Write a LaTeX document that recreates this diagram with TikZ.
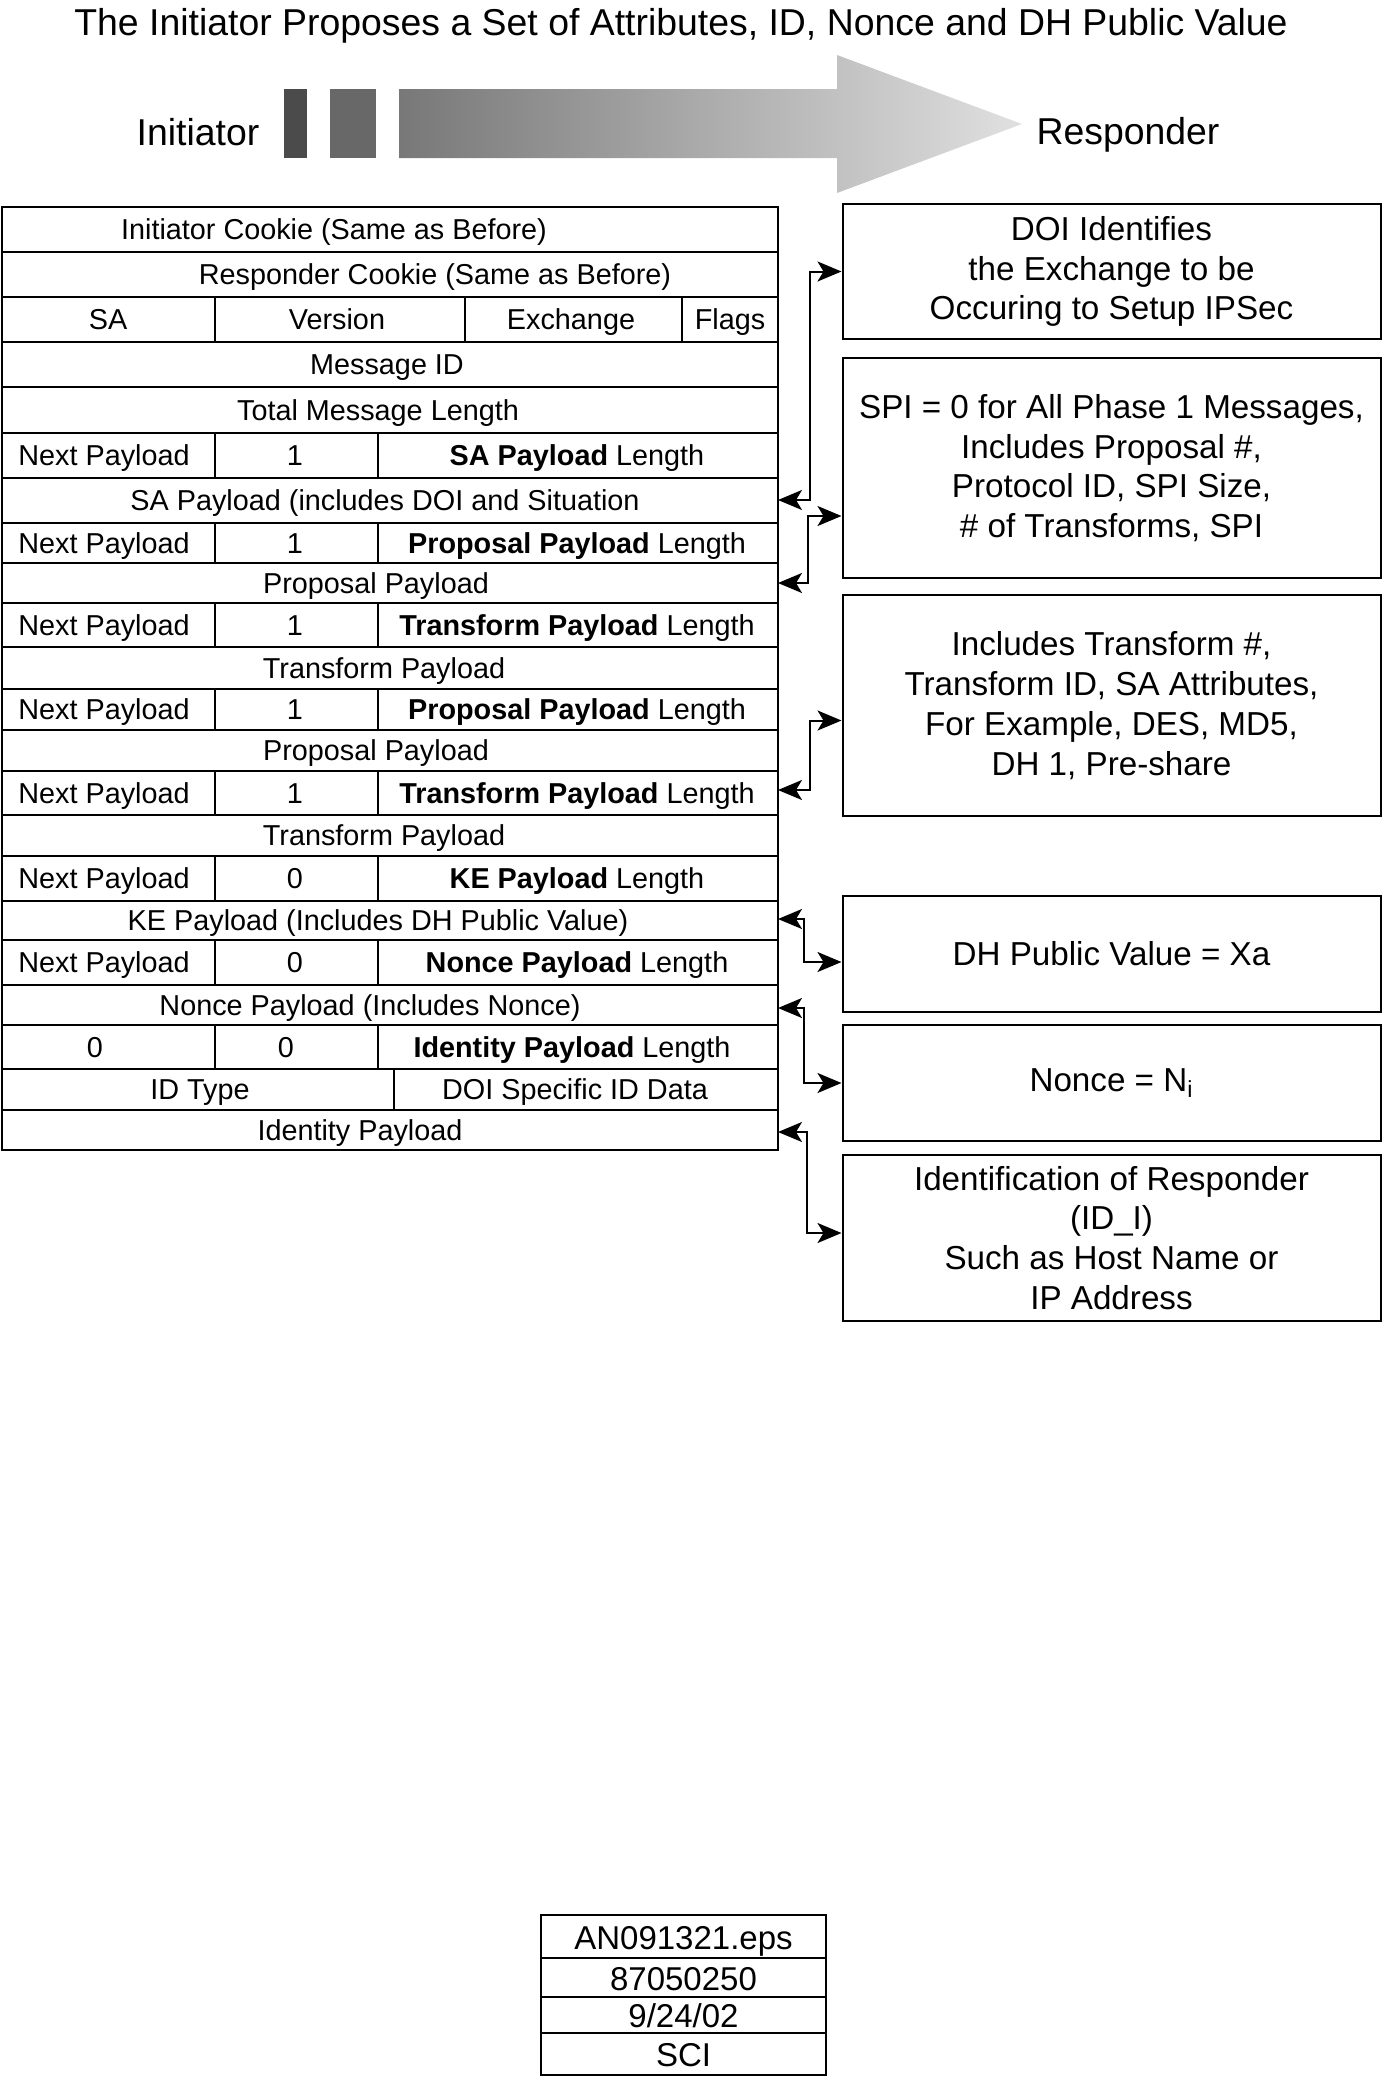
\documentclass[tikz,border=0pt]{standalone}
\usepackage{fontspec}
\setmainfont{Liberation Sans}
\usetikzlibrary{arrows.meta}
\usetikzlibrary{positioning}

\newcommand{\tbfont}{\fontsize{14.4}{17}\selectfont}
\newcommand{\notefont}{\fontsize{16.6}{19.9}\selectfont}
\newcommand{\headfont}{\fontsize{18.7}{22}\selectfont}
\newcommand{\footfont}{\fontsize{16.5}{19}\selectfont}

\definecolor{barA}{HTML}{4B4B4B}
\definecolor{barB}{HTML}{686868}

\tikzset{
    row/.style={line width=1pt},
    cell/.style={font=\tbfont, inner sep=0pt, text height=13pt, text depth=3pt},
    head/.style={font=\headfont, inner sep=0pt},
    note/.style={draw, line width=1pt, align=center, font=\notefont, minimum width=269pt},
    foot/.style={font=\footfont, inner sep=0pt, text height=12pt, text depth=3pt},
    link/.style={line width=1pt, >={Stealth[length=12pt, width=10pt, inset=3pt]}, <->}
}

\begin{document}
\begin{tikzpicture}[x=0.5pt, y=-0.5pt]
    \useasboundingbox (0,0) rectangle (1382,2077);

    % Header
    \node[head] (title) at (681,26) {The Initiator Proposes a Set of Attributes, ID, Nonce and DH Public Value};
    \node[head] (init) at (198,132) {Initiator};
    \node[head] (resp) at (1128,135) {Responder};
    \fill[barA] (284,89) rectangle (307,158);
    \fill[barB] (330,89) rectangle (376,158);
    \shade[left color=black!53, right color=black!12]
        (399,89) -- (837,89) -- (837,55) -- (1022,124) -- (837,193) -- (837,158) -- (399,158) -- cycle;

    % Full-width rows
    \foreach \ya/\yb/\xt/\name/\txt in {
        207/252/334/icookie/{Initiator Cookie (Same as Before)},
        252/297/435/rcookie/{Responder Cookie (Same as Before)},
        342/387/387/msgid/{Message ID},
        387/433/378/msglen/{Total Message Length},
        478/523/385/sapay/{SA Payload (includes DOI and Situation},
        563/603/376/proppaya/{Proposal Payload},
        647/689/384/xformpaya/{Transform Payload},
        730/771/376/proppayb/{Proposal Payload},
        815/856/384/xformpayb/{Transform Payload},
        901/940/378/kepay/{KE Payload (Includes DH Public Value)},
        985/1025/370/noncepay/{Nonce Payload (Includes Nonce)},
        1110/1150/360/idpay/{Identity Payload}} {
        \draw[row] (2,\ya) rectangle (778,\yb);
        \node[cell] (\name) at (\xt,{(\ya+\yb)/2}) {\txt};
    }

    % Header row
    \draw[row] (2,297) rectangle (778,342);
    \draw[row] (215,297) -- (215,342) (465,297) -- (465,342) (682,297) -- (682,342);
    \node[cell] (sa) at (108,319.5) {SA};
    \node[cell] (version) at (337,319.5) {Version};
    \node[cell] (exchange) at (571,319.5) {Exchange};
    \node[cell] (flags) at (730,319.5) {Flags};

    % Generic payload headers
    \foreach \ya/\yb/\n/\name/\kind in {
        433/478/1/sahdr/SA,
        523/563/1/prophdra/Proposal,
        603/647/1/xformhdra/Transform,
        689/730/1/prophdrb/Proposal,
        771/815/1/xformhdrb/Transform,
        856/901/0/kehdr/KE,
        940/985/0/noncehdr/Nonce} {
        \draw[row] (2,\ya) rectangle (778,\yb);
        \draw[row] (215,\ya) -- (215,\yb) (378,\ya) -- (378,\yb);
        \node[cell] (\name-np) at (104,{(\ya+\yb)/2}) {Next Payload};
        \node[cell] (\name-res) at (295,{(\ya+\yb)/2}) {\n};
        \node[cell] (\name-len) at (577,{(\ya+\yb)/2}) {\textbf{\kind\ Payload} Length};
    }

    % Identity payload header
    \draw[row] (2,1025) rectangle (778,1069);
    \draw[row] (215,1025) -- (215,1069) (378,1025) -- (378,1069);
    \node[cell] (idhdr-np) at (95,1047) {0};
    \node[cell] (idhdr-res) at (286,1047) {0};
    \node[cell] (idhdr-len) at (572,1047) {\textbf{Identity Payload} Length};
    \draw[row] (2,1069) rectangle (778,1110);
    \draw[row] (394,1069) -- (394,1110);
    \node[cell] (idtype) at (200,1089.5) {ID Type};
    \node[cell] (iddata) at (575,1089.5) {DOI Specific ID Data};

    % Notes
    \node[note, minimum height=67.5pt] (doi) at (1111.5,271.5) {DOI Identifies\\the Exchange to be\\Occuring to Setup IPSec};
    \node[note, minimum height=110pt] (spi) at (1111.5,468) {SPI = 0 for All Phase 1 Messages,\\Includes Proposal \#,\\Protocol ID, SPI Size,\\\# of Transforms, SPI};
    \node[note, minimum height=110.5pt] (xfnote) at (1111.5,705.5) {Includes Transform \#,\\Transform ID, SA Attributes,\\For Example, DES, MD5,\\DH 1, Pre-share};
    \node[note, minimum height=58pt] (dh) at (1111.5,954) {DH Public Value = Xa};
    \node[note, minimum height=58pt] (nonce) at (1111.5,1083) {Nonce = N\textsubscript{i}};
    \node[note, minimum height=83pt] (ident) at (1111.5,1238) {Identification of Responder\\(ID\_I)\\Such as Host Name or\\IP Address};

    % Links
    \coordinate (sa-end) at (778,500);
    \coordinate (prop-end) at (778,583);
    \coordinate (xform-end) at (778,790);
    \coordinate (ke-end) at (778,919);
    \coordinate (nonce-end) at (778,1008);
    \coordinate (id-end) at (778,1132);
    \draw[link] (sa-end) -- ++(32,0) |- (doi.west);
    \draw[link] (prop-end) -- ++(30,0) |- ([yshift=-24pt]spi.west);
    \draw[link] (xform-end) -- ++(32,0) |- ([yshift=-7.5pt]xfnote.west);
    \draw[link] (ke-end) -- ++(26,0) |- ([yshift=-4pt]dh.west);
    \draw[link] (nonce-end) -- ++(26,0) |- (nonce.west);
    \draw[link] (id-end) -- ++(29,0) |- ([yshift=2.5pt]ident.west);

    % Footer
    \draw[row] (541,1915) rectangle (826,2075);
    \foreach \y in {1958,1997,2033} {
        \draw[row] (541,\y) -- (826,\y);
    }
    \node[foot] (file) at (683.5,1940) {AN091321.eps};
    \node[foot] (number) at (683.5,1981) {87050250};
    \node[foot] (date) at (683.5,2018) {9/24/02};
    \node[foot] (maker) at (683.5,2057) {SCI};
\end{tikzpicture}
\end{document}
